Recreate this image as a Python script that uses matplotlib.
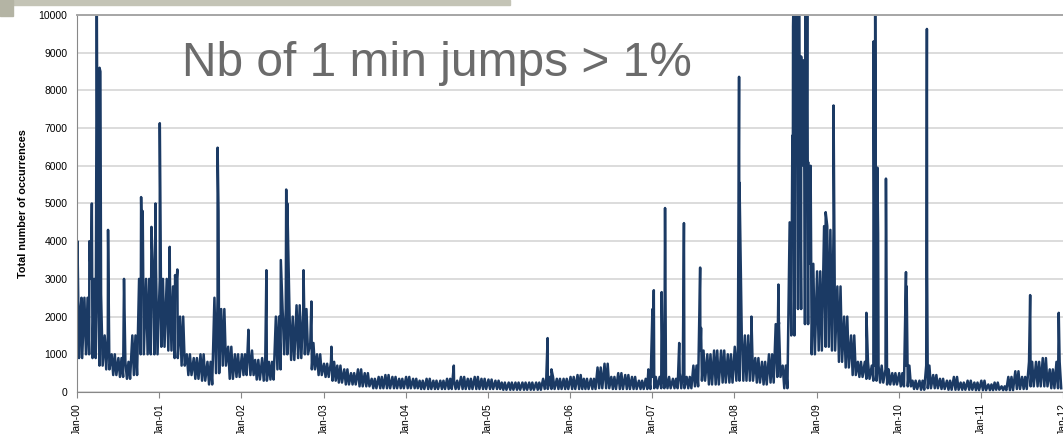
import matplotlib
matplotlib.use('Agg')

import matplotlib.pyplot as plt
import matplotlib.dates as mdates
from matplotlib.patches import Rectangle
import pandas as pd

# monthly lower / upper envelope of the daily counts, Jan 2000 .. Dec 2011
monthly_low = [
    900, 1000, 900, 700, 600, 450, 400, 350, 450, 1000, 1000, 1000,      # 2000
    1200, 1100, 900, 700, 450, 350, 300, 200, 500, 700, 350, 400,        # 2001
    450, 450, 330, 300, 330, 600, 1000, 850, 900, 1000, 600, 450,        # 2002
    400, 300, 250, 200, 200, 150, 150, 100, 100, 100, 100, 100,          # 2003
    100, 100, 80, 80, 80, 80, 80, 80, 80, 80, 80, 80,                    # 2004
    80, 80, 60, 60, 60, 60, 60, 60, 80, 80, 80, 80,                      # 2005
    80, 80, 80, 80, 100, 100, 80, 80, 80, 80, 80, 80,                    # 2006
    100, 100, 100, 100, 100, 100, 150, 300, 200, 200, 250, 250,          # 2007
    300, 300, 300, 250, 200, 250, 400, 100, 1500, 2200, 1800, 1000,      # 2008
    1100, 1200, 1100, 800, 650, 450, 400, 350, 300, 250, 200, 200,       # 2009
    150, 150, 80, 60, 100, 100, 80, 60, 60, 60, 60, 50,                  # 2010
    50, 50, 60, 50, 50, 80, 80, 150, 150, 150, 100, 100,                 # 2011
]
monthly_high = [
    2200, 2500, 3000, 2600, 1500, 1000, 900, 800, 1500, 3000, 3000, 3300,
    3000, 3000, 2800, 2000, 1000, 900, 1000, 800, 2500, 2200, 1200, 1000,
    1000, 1100, 850, 900, 800, 2000, 2200, 2000, 2300, 2200, 1300, 1000,
    750, 800, 700, 600, 500, 600, 500, 350, 400, 450, 400, 350,
    400, 350, 300, 350, 300, 300, 350, 300, 400, 350, 400, 350,
    330, 300, 250, 250, 250, 250, 250, 250, 350, 400, 350, 350,
    400, 450, 350, 350, 650, 750, 400, 500, 450, 400, 300, 350,
    400, 400, 400, 350, 500, 400, 700, 1100, 1000, 1100, 1100, 1000,
    1200, 1500, 1500, 900, 800, 1000, 1800, 700, 4500, 8000, 6000, 3400,
    3200, 4400, 4300, 2800, 2000, 1500, 800, 800, 700, 700, 600, 500,
    500, 700, 300, 300, 700, 450, 350, 300, 400, 250, 300, 250,
    300, 200, 250, 150, 400, 550, 400, 800, 800, 900, 600, 800,
]

# single-day spikes
spike_dates = [
    "2000-01-03", "2000-01-21", "2000-02-25", "2000-03-07", "2000-03-29",
    "2000-04-10", "2000-04-14", "2000-05-18", "2000-07-28", "2000-10-12",
    "2000-10-19", "2000-11-27", "2000-12-15", "2001-01-03", "2001-02-16",
    "2001-03-12", "2001-03-22", "2001-09-17", "2001-09-21", "2002-02-01",
    "2002-04-22", "2002-06-25", "2002-07-19", "2002-07-24", "2002-10-04",
    "2002-11-08", "2003-02-05", "2004-08-02", "2005-09-23", "2005-10-10",
    "2006-12-15", "2007-01-02", "2007-01-08", "2007-02-12", "2007-02-27",
    "2007-05-01", "2007-05-22", "2007-08-02", "2007-08-06", "2008-01-22",
    "2008-01-24", "2008-03-17", "2008-07-15", "2008-07-17", "2008-09-15",
    "2008-09-18", "2008-09-22", "2008-09-29", "2008-10-06", "2008-10-10",
    "2008-10-16", "2008-10-24", "2008-11-05", "2008-11-13", "2008-11-20",
    "2008-11-24", "2008-12-05", "2009-02-10", "2009-03-17", "2009-08-10",
    "2009-09-11", "2009-09-18", "2009-09-28", "2009-10-01", "2009-11-05",
    "2010-02-02", "2010-02-05", "2010-05-06", "2010-05-07", "2011-08-08",
    "2011-12-13",
]
spike_values = [
    4000, 2500, 4000, 5000, 10300,
    8600, 8500, 4300, 3000, 5170,
    4800, 4380, 5000, 7130, 3850,
    3100, 3250, 6480, 4800, 1650,
    3230, 3500, 5370, 5000, 3230,
    2400, 1200, 700, 1430, 600,
    600, 2200, 2700, 2650, 4880,
    1300, 4480, 3300, 1700, 8360,
    5550, 2000, 2850, 1850, 6800,
    9700, 11000, 12000, 12000, 11000,
    10500, 8900, 8800, 11000, 11000,
    6100, 6000, 4770, 7600, 2100,
    9300, 10300, 5950, 4200, 5660,
    3180, 2800, 9630, 3150, 2570,
    2100,
]

rows = []
for i, (lo, hi) in enumerate(zip(monthly_low, monthly_high)):
    yr, mo = 2000 + i // 12, i % 12 + 1
    for day, v in ((3, hi), (10, lo), (17, hi), (24, lo)):
        rows.append((pd.Timestamp(yr, mo, day), v))
for d, v in zip(spike_dates, spike_values):
    rows.append((pd.Timestamp(d), v))
df = pd.DataFrame(rows, columns=['date', 'n']).sort_values('date', kind='stable')

fig = plt.figure(figsize=(10.63, 4.34), dpi=100)
ax = fig.add_axes([77 / 1063, 1 - 392 / 434, 986 / 1063, 377 / 434])

ax.plot(df['date'], df['n'], color='#1b3a64', lw=1.8, solid_joinstyle='round')

ax.set_ylim(0, 10000)
ax.set_xlim(pd.Timestamp('2000-01-01'), pd.Timestamp('2012-01-01'))
ax.set_yticks(range(0, 10001, 1000))
ax.yaxis.grid(True, color='#d9d9d9', lw=1.3)
ax.set_axisbelow(True)

ax.xaxis.set_major_locator(mdates.YearLocator())
ax.xaxis.set_major_formatter(mdates.DateFormatter('%b-%y'))
plt.setp(ax.get_xticklabels(), rotation=90, fontsize=7.5, family='Liberation Sans')
plt.setp(ax.get_yticklabels(), fontsize=7.5, family='Liberation Sans')
ax.tick_params(axis='x', length=4, color='#888888', pad=4)
ax.tick_params(axis='y', length=0, pad=7)

for side in ('left', 'bottom'):
    ax.spines[side].set_color('#888888')
ax.spines['top'].set_color('#a6a6a6')
ax.spines['top'].set_linewidth(1.4)
ax.spines['right'].set_visible(False)

ax.set_ylabel('Total number of occurrences', fontsize=7.8, fontweight='bold',
              family='Liberation Sans')
ax.yaxis.set_label_coords(-0.05, 0.5)

fig.text(182 / 1063, 1 - 76 / 434, 'Nb of 1 min jumps > 1%', fontsize=34.5,
         color='#6b6b6b', family='Liberation Sans', va='baseline')

# slide decoration in the top-left corner
fig.patches.append(Rectangle((0, 1 - 5 / 434), 510 / 1063, 5 / 434,
                             transform=fig.transFigure, color='#c4c4b6'))
fig.patches.append(Rectangle((0, 1 - 16 / 434), 13 / 1063, 16 / 434,
                             transform=fig.transFigure, color='#b4b4a4'))

fig.savefig('out.png', dpi=100)
